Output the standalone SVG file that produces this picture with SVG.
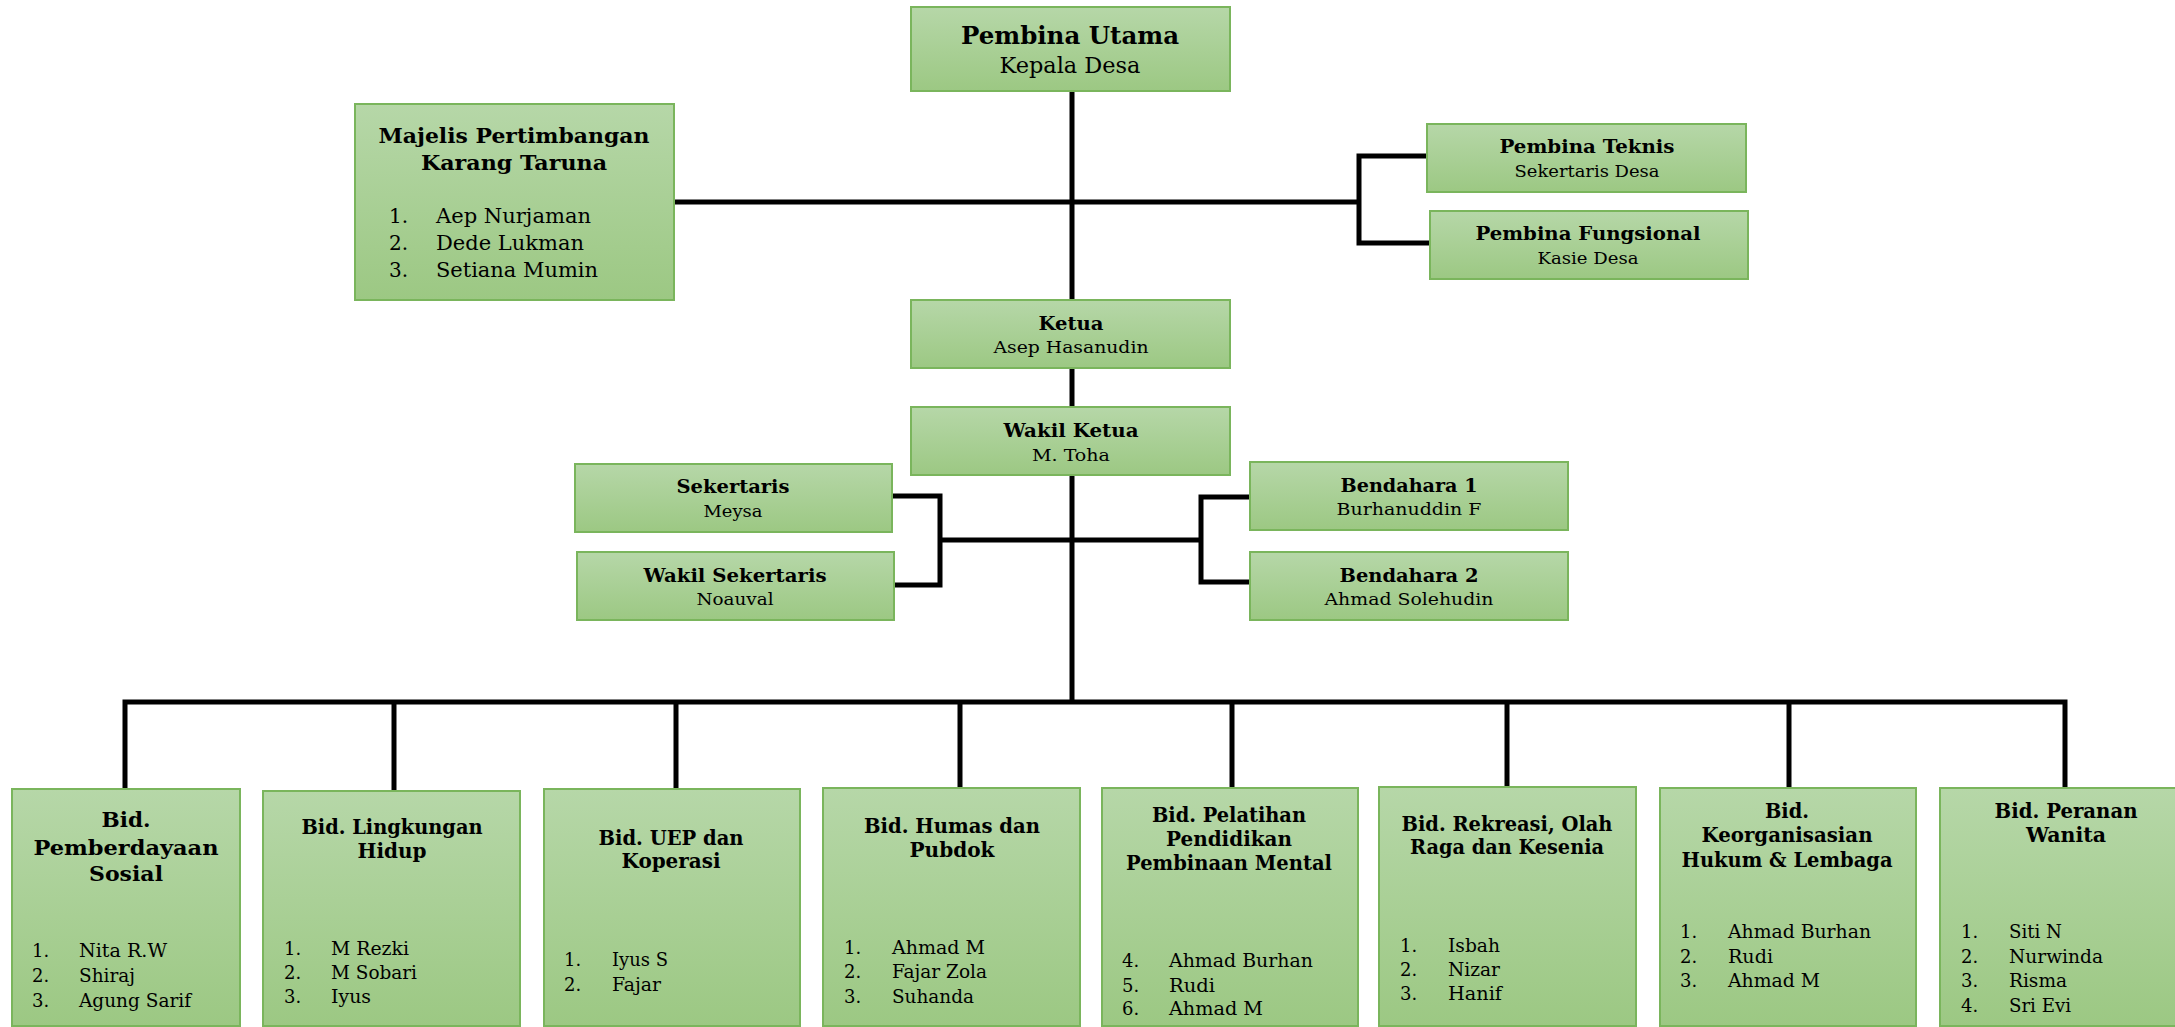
<svg xmlns="http://www.w3.org/2000/svg" width="2175" height="1027" viewBox="0 0 2175 1027">
<defs>
<linearGradient id="g" x1="0" y1="0" x2="0" y2="1">
<stop offset="0" stop-color="#b6d7a8"/>
<stop offset="1" stop-color="#9cc883"/>
</linearGradient>
<style>
.box{fill:url(#g);stroke:#7ab55c;stroke-width:2}
text{font-family:"DejaVu Serif","Liberation Serif",serif;fill:#000}
.c{text-anchor:middle}
.b{font-weight:bold}
.t1{font-size:25px}
.t1r{font-size:22.5px}
.t2{font-size:20px}
.t2r{font-size:20px}
.t3{font-size:18px}
.t3r{font-size:17px}
.bt{font-size:21px;font-weight:bold;text-anchor:middle}
.li{font-size:18px}
.ln{stroke:#000;stroke-width:5;fill:none}
</style>
</defs>
<rect width="2175" height="1027" fill="#fff"/>
<g id="connectors">
<path class="ln" d="M1072 91V702"/>
<path class="ln" d="M674 202H1359"/>
<path class="ln" d="M1427 156H1359V243H1430"/>
<path class="ln" d="M892 496H940V585H894"/>
<path class="ln" d="M940 540H1201"/>
<path class="ln" d="M1250 497H1201V582H1250"/>
<path class="ln" d="M125 788V702H2065V788"/>
<path class="ln" d="M394 702V790M676 702V788M960 702V788M1232 702V788M1507 702V787M1789 702V788"/>
</g>
<g id="pembina-utama">
<rect class="box" x="911" y="7" width="319" height="84"/>
<text class="c b t1" x="1070" y="44" textLength="218" lengthAdjust="spacingAndGlyphs">Pembina Utama</text>
<text class="c t1r" x="1070" y="73" textLength="141" lengthAdjust="spacingAndGlyphs">Kepala Desa</text>
</g>
<g id="majelis">
<rect class="box" x="355" y="104" width="319" height="196"/>
<text class="c b t2" x="514" y="143" textLength="271" lengthAdjust="spacingAndGlyphs">Majelis Pertimbangan</text>
<text class="c b t2" x="514" y="170" textLength="186" lengthAdjust="spacingAndGlyphs">Karang Taruna</text>
<text class="t2r" x="389" y="223">1.</text><text class="t2r" x="436" y="223" textLength="155" lengthAdjust="spacingAndGlyphs">Aep Nurjaman</text>
<text class="t2r" x="389" y="250">2.</text><text class="t2r" x="436" y="250" textLength="148" lengthAdjust="spacingAndGlyphs">Dede Lukman</text>
<text class="t2r" x="389" y="277">3.</text><text class="t2r" x="436" y="277" textLength="162" lengthAdjust="spacingAndGlyphs">Setiana Mumin</text>
</g>
<g id="pembina-teknis">
<rect class="box" x="1427" y="124" width="319" height="68"/>
<text class="c b t3" x="1587" y="153" textLength="175" lengthAdjust="spacingAndGlyphs">Pembina Teknis</text>
<text class="c t3r" x="1587" y="177" textLength="145" lengthAdjust="spacingAndGlyphs">Sekertaris Desa</text>
</g>
<g id="pembina-fungsional">
<rect class="box" x="1430" y="211" width="318" height="68"/>
<text class="c b t3" x="1588" y="240" textLength="225" lengthAdjust="spacingAndGlyphs">Pembina Fungsional</text>
<text class="c t3r" x="1588" y="264" textLength="101" lengthAdjust="spacingAndGlyphs">Kasie Desa</text>
</g>
<g id="ketua">
<rect class="box" x="911" y="300" width="319" height="68"/>
<text class="c b t3" x="1071" y="330" textLength="65" lengthAdjust="spacingAndGlyphs">Ketua</text>
<text class="c t3r" x="1071" y="353" textLength="155" lengthAdjust="spacingAndGlyphs">Asep Hasanudin</text>
</g>
<g id="wakil-ketua">
<rect class="box" x="911" y="407" width="319" height="68"/>
<text class="c b t3" x="1071" y="437" textLength="135" lengthAdjust="spacingAndGlyphs">Wakil Ketua</text>
<text class="c t3r" x="1071" y="461" textLength="78" lengthAdjust="spacingAndGlyphs">M. Toha</text>
</g>
<g id="sekertaris">
<rect class="box" x="575" y="464" width="317" height="68"/>
<text class="c b t3" x="733" y="493" textLength="113" lengthAdjust="spacingAndGlyphs">Sekertaris</text>
<text class="c t3r" x="733" y="517" textLength="59" lengthAdjust="spacingAndGlyphs">Meysa</text>
</g>
<g id="wakil-sekertaris">
<rect class="box" x="577" y="552" width="317" height="68"/>
<text class="c b t3" x="735" y="582" textLength="183" lengthAdjust="spacingAndGlyphs">Wakil Sekertaris</text>
<text class="c t3r" x="735" y="605" textLength="77" lengthAdjust="spacingAndGlyphs">Noauval</text>
</g>
<g id="bendahara-1">
<rect class="box" x="1250" y="462" width="318" height="68"/>
<text class="c b t3" x="1409" y="492" textLength="137" lengthAdjust="spacingAndGlyphs">Bendahara 1</text>
<text class="c t3r" x="1409" y="515" textLength="145" lengthAdjust="spacingAndGlyphs">Burhanuddin F</text>
</g>
<g id="bendahara-2">
<rect class="box" x="1250" y="552" width="318" height="68"/>
<text class="c b t3" x="1409" y="582" textLength="139" lengthAdjust="spacingAndGlyphs">Bendahara 2</text>
<text class="c t3r" x="1409" y="605" textLength="169" lengthAdjust="spacingAndGlyphs">Ahmad Solehudin</text>
</g>
<g id="bid-pemberdayaan">
<rect class="box" x="12" y="789" width="228" height="237"/>
<text class="bt" x="126" y="827" textLength="49" lengthAdjust="spacingAndGlyphs">Bid.</text>
<text class="bt" x="126" y="855" textLength="185" lengthAdjust="spacingAndGlyphs">Pemberdayaan</text>
<text class="bt" x="126" y="881" textLength="74" lengthAdjust="spacingAndGlyphs">Sosial</text>
<text class="li" x="32" y="957">1.</text><text class="li" x="79" y="957" textLength="88" lengthAdjust="spacingAndGlyphs">Nita R.W</text>
<text class="li" x="32" y="982">2.</text><text class="li" x="79" y="982" textLength="56" lengthAdjust="spacingAndGlyphs">Shiraj</text>
<text class="li" x="32" y="1007">3.</text><text class="li" x="79" y="1007" textLength="112" lengthAdjust="spacingAndGlyphs">Agung Sarif</text>
</g>
<g id="bid-lingkungan">
<rect class="box" x="263" y="791" width="257" height="235"/>
<text class="bt" x="392" y="834" textLength="181" lengthAdjust="spacingAndGlyphs">Bid. Lingkungan</text>
<text class="bt" x="392" y="858" textLength="69" lengthAdjust="spacingAndGlyphs">Hidup</text>
<text class="li" x="284" y="955">1.</text><text class="li" x="331" y="955" textLength="78" lengthAdjust="spacingAndGlyphs">M Rezki</text>
<text class="li" x="284" y="979">2.</text><text class="li" x="331" y="979" textLength="86" lengthAdjust="spacingAndGlyphs">M Sobari</text>
<text class="li" x="284" y="1003">3.</text><text class="li" x="331" y="1003" textLength="40" lengthAdjust="spacingAndGlyphs">Iyus</text>
</g>
<g id="bid-uep">
<rect class="box" x="544" y="789" width="256" height="237"/>
<text class="bt" x="671" y="845" textLength="145" lengthAdjust="spacingAndGlyphs">Bid. UEP dan</text>
<text class="bt" x="671" y="868" textLength="99" lengthAdjust="spacingAndGlyphs">Koperasi</text>
<text class="li" x="564" y="966">1.</text><text class="li" x="612" y="966" textLength="56" lengthAdjust="spacingAndGlyphs">Iyus S</text>
<text class="li" x="564" y="991">2.</text><text class="li" x="612" y="991" textLength="49" lengthAdjust="spacingAndGlyphs">Fajar</text>
</g>
<g id="bid-humas">
<rect class="box" x="823" y="788" width="257" height="238"/>
<text class="bt" x="952" y="833" textLength="176" lengthAdjust="spacingAndGlyphs">Bid. Humas dan</text>
<text class="bt" x="952" y="857" textLength="85" lengthAdjust="spacingAndGlyphs">Pubdok</text>
<text class="li" x="844" y="954">1.</text><text class="li" x="892" y="954" textLength="93" lengthAdjust="spacingAndGlyphs">Ahmad M</text>
<text class="li" x="844" y="978">2.</text><text class="li" x="892" y="978" textLength="95" lengthAdjust="spacingAndGlyphs">Fajar Zola</text>
<text class="li" x="844" y="1003">3.</text><text class="li" x="892" y="1003" textLength="82" lengthAdjust="spacingAndGlyphs">Suhanda</text>
</g>
<g id="bid-pelatihan">
<rect class="box" x="1102" y="788" width="256" height="238"/>
<text class="bt" x="1229" y="822" textLength="154" lengthAdjust="spacingAndGlyphs">Bid. Pelatihan</text>
<text class="bt" x="1229" y="846" textLength="126" lengthAdjust="spacingAndGlyphs">Pendidikan</text>
<text class="bt" x="1229" y="870" textLength="206" lengthAdjust="spacingAndGlyphs">Pembinaan Mental</text>
<text class="li" x="1122" y="967">4.</text><text class="li" x="1169" y="967" textLength="144" lengthAdjust="spacingAndGlyphs">Ahmad Burhan</text>
<text class="li" x="1122" y="992">5.</text><text class="li" x="1169" y="992" textLength="46" lengthAdjust="spacingAndGlyphs">Rudi</text>
<text class="li" x="1122" y="1015">6.</text><text class="li" x="1169" y="1015" textLength="94" lengthAdjust="spacingAndGlyphs">Ahmad M</text>
</g>
<g id="bid-rekreasi">
<rect class="box" x="1379" y="787" width="257" height="239"/>
<text class="bt" x="1507" y="831" textLength="211" lengthAdjust="spacingAndGlyphs">Bid. Rekreasi, Olah</text>
<text class="bt" x="1507" y="854" textLength="194" lengthAdjust="spacingAndGlyphs">Raga dan Kesenia</text>
<text class="li" x="1400" y="952">1.</text><text class="li" x="1448" y="952" textLength="52" lengthAdjust="spacingAndGlyphs">Isbah</text>
<text class="li" x="1400" y="976">2.</text><text class="li" x="1448" y="976" textLength="52" lengthAdjust="spacingAndGlyphs">Nizar</text>
<text class="li" x="1400" y="1000">3.</text><text class="li" x="1448" y="1000" textLength="54" lengthAdjust="spacingAndGlyphs">Hanif</text>
</g>
<g id="bid-keorganisasian">
<rect class="box" x="1660" y="788" width="256" height="238"/>
<text class="bt" x="1787" y="818" textLength="44" lengthAdjust="spacingAndGlyphs">Bid.</text>
<text class="bt" x="1787" y="842" textLength="171" lengthAdjust="spacingAndGlyphs">Keorganisasian</text>
<text class="bt" x="1787" y="867" textLength="211" lengthAdjust="spacingAndGlyphs">Hukum &amp; Lembaga</text>
<text class="li" x="1680" y="938">1.</text><text class="li" x="1728" y="938" textLength="143" lengthAdjust="spacingAndGlyphs">Ahmad Burhan</text>
<text class="li" x="1680" y="963">2.</text><text class="li" x="1728" y="963" textLength="45" lengthAdjust="spacingAndGlyphs">Rudi</text>
<text class="li" x="1680" y="987">3.</text><text class="li" x="1728" y="987" textLength="92" lengthAdjust="spacingAndGlyphs">Ahmad M</text>
</g>
<g id="bid-peranan">
<rect class="box" x="1940" y="788" width="250" height="238"/>
<text class="bt" x="2066" y="818" textLength="143" lengthAdjust="spacingAndGlyphs">Bid. Peranan</text>
<text class="bt" x="2066" y="842" textLength="80" lengthAdjust="spacingAndGlyphs">Wanita</text>
<text class="li" x="1961" y="938">1.</text><text class="li" x="2009" y="938" textLength="53" lengthAdjust="spacingAndGlyphs">Siti N</text>
<text class="li" x="1961" y="963">2.</text><text class="li" x="2009" y="963" textLength="94" lengthAdjust="spacingAndGlyphs">Nurwinda</text>
<text class="li" x="1961" y="987">3.</text><text class="li" x="2009" y="987" textLength="58" lengthAdjust="spacingAndGlyphs">Risma</text>
<text class="li" x="1961" y="1012">4.</text><text class="li" x="2009" y="1012" textLength="62" lengthAdjust="spacingAndGlyphs">Sri Evi</text>
</g>
</svg>
